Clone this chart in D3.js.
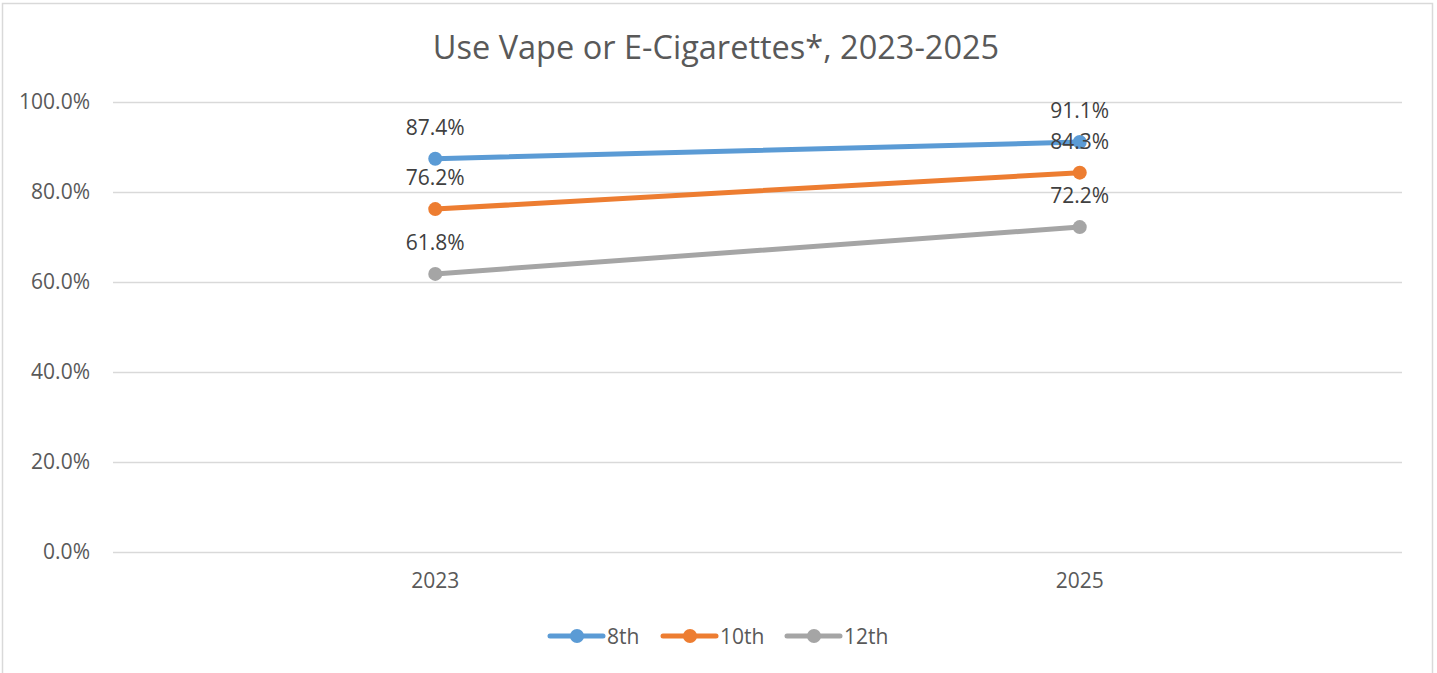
<!DOCTYPE html>
<html><head><meta charset="utf-8">
<script src="https://cdn.jsdelivr.net/npm/d3@7"></script>
<style>body{margin:0;background:#fff;}svg{display:block;}</style>
</head><body>
<svg id="c" width="1437" height="673"></svg>
<script>
const categories = ["2023", "2025"];
const seriesNames = ["8th", "10th", "12th"];
const values8th = [87.4, 91.1];
const values10th = [76.2, 84.3];
const values12th = [61.8, 72.2];
const yTicks = [0, 20, 40, 60, 80, 100];
const title = "Use Vape or E-Cigarettes*, 2023-2025";
const colors = ["#5B9BD5", "#ED7D31", "#A5A5A5"];

const series = [values8th, values10th, values12th].map((v, i) => ({name: seriesNames[i], values: v, color: colors[i]}));
const font = "'Open Sans', sans-serif";
const txt = "#595959";
const svg = d3.select("#c");

svg.append("rect").attr("x", 2.5).attr("y", 3.5).attr("width", 1430).attr("height", 680)
  .attr("fill", "#fff").attr("stroke", "#D9D9D9").attr("stroke-width", 1.5);

const L = 113, R = 1402, T = 102, B = 552;
const x = d3.scaleBand().domain(categories).range([L, R]);
const y = d3.scaleLinear().domain([0, 100]).range([B, T]);
const cx = c => x(c) + x.bandwidth() / 2;

svg.append("text").attr("x", 716).attr("y", 59).attr("text-anchor", "middle")
  .attr("font-family", font).attr("font-size", 32.5).attr("fill", txt).text(title);

const yAxis = d3.axisLeft(y).tickValues(yTicks).tickSize(-(R - L)).tickPadding(23)
  .tickFormat(d => d.toFixed(1) + "%");
const gy = svg.append("g").attr("transform", `translate(${L},0)`).call(yAxis);
gy.select(".domain").remove();
gy.selectAll(".tick line").attr("stroke", "#D9D9D9").attr("stroke-width", 1.5);
gy.selectAll(".tick text").attr("font-family", font).attr("font-size", 21).attr("fill", txt);

const xAxis = d3.axisBottom(x).tickSize(0).tickPadding(21);
const gx = svg.append("g").attr("transform", `translate(0,${B})`).call(xAxis);
gx.select(".domain").remove();
gx.selectAll(".tick text").attr("font-family", font).attr("font-size", 21).attr("fill", txt);

const line = d3.line().x((d, i) => cx(categories[i])).y(d => y(d));
series.forEach(s => {
  svg.append("path").attr("d", line(s.values)).attr("fill", "none")
    .attr("stroke", s.color).attr("stroke-width", 5).attr("stroke-linecap", "round");
  svg.selectAll(null).data(s.values).enter().append("circle")
    .attr("cx", (d, i) => cx(categories[i])).attr("cy", d => y(d)).attr("r", 7).attr("fill", s.color);
});
series.forEach(s => {
  svg.selectAll(null).data(s.values).enter().append("text")
    .attr("x", (d, i) => cx(categories[i])).attr("y", d => y(d) - 24)
    .attr("text-anchor", "middle").attr("font-family", font).attr("font-size", 21).attr("fill", "#404040")
    .text(d => d.toFixed(1) + "%");
});

const legX = [550, 663, 787];
const legY = 636;
series.forEach((s, i) => {
  const g = svg.append("g");
  g.append("line").attr("x1", legX[i]).attr("x2", legX[i] + 53).attr("y1", legY).attr("y2", legY)
    .attr("stroke", s.color).attr("stroke-width", 5).attr("stroke-linecap", "round");
  g.append("circle").attr("cx", legX[i] + 27).attr("cy", legY).attr("r", 7).attr("fill", s.color);
  g.append("text").attr("x", legX[i] + 57).attr("y", legY + 7.5).attr("font-family", font)
    .attr("font-size", 21).attr("fill", txt).text(s.name);
});
</script>
</body></html>
